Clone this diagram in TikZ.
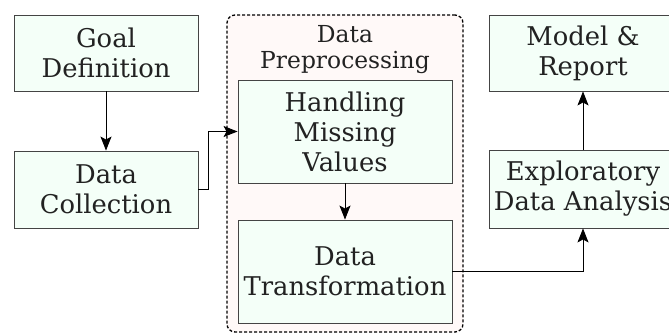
\documentclass[tikz,border=0pt]{standalone}
\usepackage{fontspec}
\setmainfont{DejaVu Serif}
\usetikzlibrary{arrows.meta}
\definecolor{boxfill}{HTML}{F4FFF8}
\definecolor{boxline}{HTML}{444444}
\definecolor{grpfill}{HTML}{FFF9F8}
\definecolor{txt}{HTML}{222222}
\tikzset{
  procbox/.style={draw=boxline, line width=0.9pt, fill=boxfill, align=center,
    inner sep=1pt, text=txt, font=\fontsize{25.8}{30}\selectfont},
  grpbox/.style={draw=black, line width=1.3pt, dash pattern=on 3pt off 2pt,
    rounded corners=8pt, fill=grpfill},
  conn/.style={draw=black, line width=0.9pt,
    -{Stealth[length=14pt,width=11pt,inset=3pt]}},
  grptitle/.style={align=center, text=txt, font=\fontsize{23.4}{26}\selectfont}
}
\begin{document}
\begin{tikzpicture}[x=1pt,y=-1pt]
\useasboundingbox (0,0) rectangle (669,332);
\fill[white] (0,0) rectangle (669,332);
\node[grpbox, minimum width=236pt, minimum height=317pt] (prep) at (345,173.5) {};
\node[grptitle] (preptitle) at (345,50) {Data\\Preprocessing};
\node[procbox, minimum width=184pt, minimum height=76pt] (goal) at (106,53) {Goal\\Definition};
\node[procbox, minimum width=184pt, minimum height=77pt] (collect) at (106,189.5) {Data\\Collection};
\node[procbox, minimum width=214pt, minimum height=103pt] (handle) at (345,131.5) {Handling\\Missing\\Values};
\node[procbox, minimum width=214pt, minimum height=103pt] (trans) at (345,271.5) {Data\\Transformation};
\node[procbox, minimum width=188pt, minimum height=76pt] (model) at (583,53) {Model \&\\Report};
\node[procbox, minimum width=188pt, minimum height=78pt] (eda) at (583,189) {Exploratory\\Data Analysis};
\draw[conn] (goal.south) -- (collect.north);
\draw[conn] (collect.east) -- ++(10,0) |- (handle.west);
\draw[conn] (handle.south) -- (trans.north);
\draw[conn] (trans.east) -| (eda.south);
\draw[conn] (eda.north) -- (model.south);
\end{tikzpicture}
\end{document}
